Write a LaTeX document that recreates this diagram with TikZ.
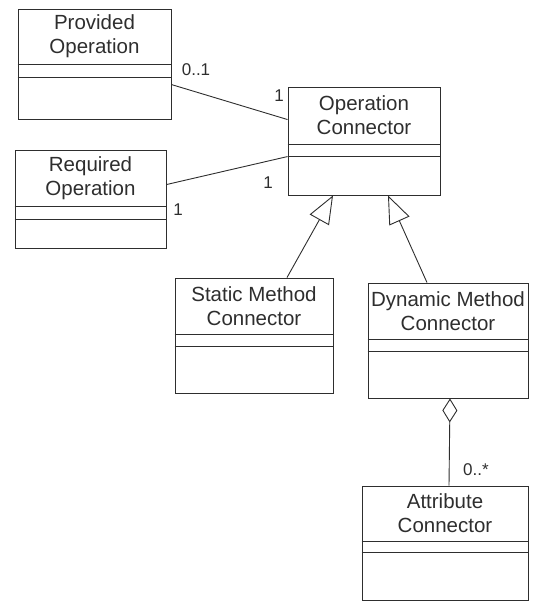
\documentclass[tikz,border=0pt]{standalone}
\usepackage{fontspec}
\setmainfont{Liberation Sans}
\usetikzlibrary{arrows.meta}
\definecolor{ink}{HTML}{2E2E2E}
\tikzset{
  classbox/.style={draw=ink, line width=0.9pt, rectangle, inner sep=0pt},
  classname/.style={text=ink, font=\fontsize{20.5}{24}\selectfont, align=center, inner sep=0pt},
  mult/.style={text=ink, font=\fontsize{17}{19}\selectfont, inner sep=0pt},
  link/.style={draw=ink, line width=0.9pt},
  inherit/.style={link, -{Triangle[open, length=28pt, width=22pt, fill=white]}},
  aggreg/.style={link, {Diamond[open, length=24pt, width=15pt, fill=white]}-},
}
% class box: name, centre x, centre y, width, height, first rule, second rule, text
\newcommand{\umlbox}[8]{%
  \node[classbox, minimum width=#4pt, minimum height=#5pt] (#1) at (#2,#3) {};
  \draw[link] ([yshift=-#6pt]#1.north west) -- ([yshift=-#6pt]#1.north east);
  \draw[link] ([yshift=-#7pt]#1.north west) -- ([yshift=-#7pt]#1.north east);
  \node[classname] (#1-name) at ([yshift=-#6pt/2]#1.north) {#8};
}
\begin{document}
\begin{tikzpicture}[x=1pt, y=-1pt]
  \useasboundingbox (0,0) rectangle (534,603);

  \umlbox{po}{94.5}{64}{153}{110}{56}{69}{Provided\\Operation}
  \umlbox{rq}{90.5}{199}{151}{98}{57}{70}{Required\\Operation}
  \umlbox{oc}{364}{141}{152}{108}{58}{70}{Operation\\Connector}
  \umlbox{st}{254}{335.5}{158}{115}{57}{69}{Static Method\\Connector}
  \umlbox{dy}{448}{340.5}{160}{115}{57}{69}{Dynamic Method\\Connector}
  \umlbox{at}{445}{543}{166}{114}{56}{67}{Attribute\\Connector}

  % associations to the operation connector
  \draw[link] ([yshift=-76pt]po.north east) -- ([yshift=-33pt]oc.north west);
  \draw[link] ([yshift=-35pt]rq.north east) -- ([yshift=-70pt]oc.north west);

  % generalizations
  \draw[inherit] ([xshift=33pt]st.north) -- ([xshift=-31pt]oc.south);
  \draw[inherit] ([xshift=-21pt]dy.north) -- ([xshift=24pt]oc.south);

  % aggregation
  \draw[aggreg] ([xshift=2pt]dy.south) -- ([xshift=4pt]at.north);

  % multiplicities
  \node[mult] (m1) at (196,70) {0..1};
  \node[mult] (m2) at (279,96) {1};
  \node[mult] (m3) at (268,183) {1};
  \node[mult] (m4) at (178,210) {1};
  \node[mult] (m5) at (476,470) {0..*};
\end{tikzpicture}
\end{document}
